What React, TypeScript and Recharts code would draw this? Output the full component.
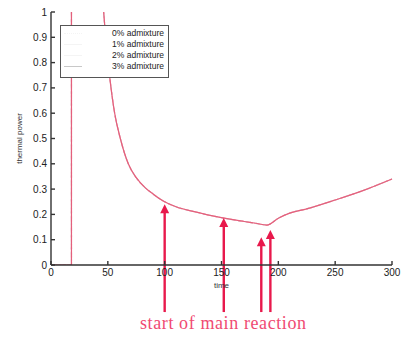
import React from 'react';
import { LineChart, Line, XAxis, YAxis, ReferenceLine, Legend } from 'recharts';

const time = [0, 18, 18.01, 30, 40, 46, 49, 52, 56, 61, 68, 75, 83, 90, 98, 110, 127, 140, 150, 160, 170, 180, 190, 200, 210, 225, 250, 275, 300];
const admix0 = [0, 0, 10, 3, 1.5, 1.02, 0.86, 0.73, 0.6, 0.5, 0.4, 0.345, 0.305, 0.28, 0.255, 0.23, 0.21, 0.196, 0.187, 0.179, 0.172, 0.165, 0.158, 0.185, 0.205, 0.222, 0.257, 0.295, 0.34];
const admix1 = [0, 0, 10, 3, 1.5, 1.02, 0.86, 0.73, 0.6, 0.5, 0.4, 0.345, 0.305, 0.28, 0.255, 0.23, 0.21, 0.196, 0.187, 0.179, 0.172, 0.165, 0.158, 0.185, 0.205, 0.222, 0.257, 0.295, 0.34];
const admix2 = [0, 0, 10, 3, 1.5, 1.02, 0.86, 0.73, 0.6, 0.5, 0.4, 0.345, 0.305, 0.28, 0.255, 0.23, 0.21, 0.196, 0.187, 0.179, 0.172, 0.165, 0.158, 0.185, 0.205, 0.222, 0.257, 0.295, 0.34];
const admix3 = [0, 0, 10, 3, 1.5, 1.02, 0.86, 0.73, 0.6, 0.5, 0.4, 0.345, 0.305, 0.28, 0.255, 0.23, 0.21, 0.196, 0.187, 0.179, 0.172, 0.165, 0.158, 0.185, 0.205, 0.222, 0.257, 0.295, 0.34];

const seriesNames = ['0% admixture', '1% admixture', '2% admixture', '3% admixture'];
const seriesKeys = ['a0', 'a1', 'a2', 'a3'];
const seriesColors = ['#c4ccd0', '#f0a8b8', '#eab4c0', '#e4607c'];
const seriesDash = ['3 3', '6 3', '2 2', undefined];

const xTicks = [0, 50, 100, 150, 200, 250, 300];
const yTicks = [0, 0.1, 0.2, 0.3, 0.4, 0.5, 0.6, 0.7, 0.8, 0.9, 1];

const arrowTimes = [100, 152, 185, 193];
const arrowTips = [0.24, 0.186, 0.11, 0.138];
const arrowBase = -0.186;
const caption = 'start of main reaction';

const data = time.map((t, i) => ({ t, a0: admix0[i], a1: admix1[i], a2: admix2[i], a3: admix3[i] }));

const ARROW = '#e8194c';

const Arrow = (props: any) => {
  const { x1, y1, x2, y2 } = props;
  if (x1 == null || y1 == null || y2 == null) return null;
  const tip = Math.min(y1, y2);
  const base = Math.max(y1, y2);
  const x = (x1 + x2) / 2;
  return (
    <g>
      <line x1={x} x2={x} y1={base} y2={tip + 6} stroke={ARROW} strokeWidth={2.4} />
      <polygon points={`${x - 4.5},${tip + 9} ${x},${tip} ${x + 4.5},${tip + 9}`} fill={ARROW} />
    </g>
  );
};

const LegendBox = () => (
  <div
    style={{
      width: 107,
      height: 49,
      border: '1.5px solid #555',
      background: '#fff',
      boxSizing: 'content-box',
      fontFamily: 'Liberation Sans, Arial, sans-serif',
      fontSize: 8.5,
      color: '#222',
      paddingTop: 2,
    }}
  >
    {seriesNames.map((n, i) => (
      <div key={n} style={{ height: 11, lineHeight: '11px', position: 'relative', textAlign: 'right', paddingRight: 4 }}>
        <span
          style={{
            position: 'absolute',
            left: 3,
            top: 5,
            width: 18,
            borderTop: `1px ${i === 0 ? 'dotted' : 'solid'} ${i === 3 ? '#c8c8c8' : '#f4f4f4'}`,
          }}
        />
        {n}
      </div>
    ))}
  </div>
);

const tickStyle = { fontSize: 10, fill: '#222', fontFamily: 'Liberation Sans, Arial, sans-serif' };

export default function App() {
  return (
    <div style={{ position: 'absolute', left: 0, top: 0, width: 406, height: 338, background: '#fff' }}>
      <LineChart width={406} height={338} data={data} margin={{ top: 12, right: 14, left: 0, bottom: 48 }}>
        <XAxis
          xAxisId="top"
          orientation="top"
          dataKey="t"
          type="number"
          domain={[0, 300]}
          ticks={xTicks}
          tick={false}
          height={0}
          tickSize={-4}
          stroke="#666"
          strokeWidth={1.2}
        />
        <YAxis
          yAxisId="right"
          orientation="right"
          type="number"
          domain={[0, 1]}
          ticks={yTicks}
          tick={false}
          width={0}
          tickSize={-4}
          stroke="#666"
          strokeWidth={1.2}
        />
        <XAxis
          dataKey="t"
          type="number"
          domain={[0, 300]}
          ticks={xTicks}
          height={25}
          tickSize={-4}
          tickMargin={8}
          stroke="#333"
          strokeWidth={1.4}
          tick={tickStyle}
          label={{ value: 'time', position: 'insideBottom', offset: 2, fill: '#333', fontSize: 8, fontFamily: 'Liberation Sans, Arial, sans-serif' }}
        />
        <YAxis
          type="number"
          domain={[0, 1]}
          allowDataOverflow
          ticks={yTicks}
          width={51}
          tickSize={-4}
          tickMargin={8}
          stroke="#333"
          strokeWidth={1.4}
          tick={tickStyle}
          tickFormatter={(v: number) => (v === 0 || v === 1 ? String(v) : v.toFixed(1))}
          label={{
            content: (p: any) => {
              const vb = p.viewBox || { x: 0, y: 12, width: 51, height: 253 };
              const cx = vb.x + 19;
              const cy = vb.y + vb.height / 2;
              return (
                <text
                  x={cx}
                  y={cy}
                  transform={`rotate(-90 ${cx} ${cy})`}
                  textAnchor="middle"
                  dominantBaseline="central"
                  fontSize={8}
                  fill="#333"
                  fontFamily="Liberation Sans, Arial, sans-serif"
                >
                  thermal power
                </text>
              );
            },
          }}
        />
        {seriesKeys.map((k, i) => (
          <Line
            key={k}
            dataKey={k}
            name={seriesNames[i]}
            type="monotone"
            stroke={seriesColors[i]}
            strokeDasharray={seriesDash[i]}
            strokeWidth={1.2}
            dot={false}
            isAnimationActive={false}
          />
        ))}
        <Legend
          layout="horizontal"
          verticalAlign="middle"
          align="center"
          wrapperStyle={{ left: 60, top: 25, width: 110, height: 53 }}
          content={() => <LegendBox />}
        />
        {arrowTimes.map((t, i) => (
          <ReferenceLine
            key={t}
            ifOverflow="visible"
            segment={[{ x: t, y: arrowBase }, { x: t, y: arrowTips[i] }]}
            stroke={ARROW}
            shape={(p: any) => <Arrow {...p} />}
          />
        ))}
      </LineChart>
      <div
        style={{
          position: 'absolute',
          left: 140,
          top: 314,
          fontFamily: 'Liberation Serif, DejaVu Serif, serif',
          fontSize: 18,
          lineHeight: '18px',
          letterSpacing: 0.6,
          color: '#f04a72',
          whiteSpace: 'nowrap',
        }}
      >
        {caption}
      </div>
    </div>
  );
}
